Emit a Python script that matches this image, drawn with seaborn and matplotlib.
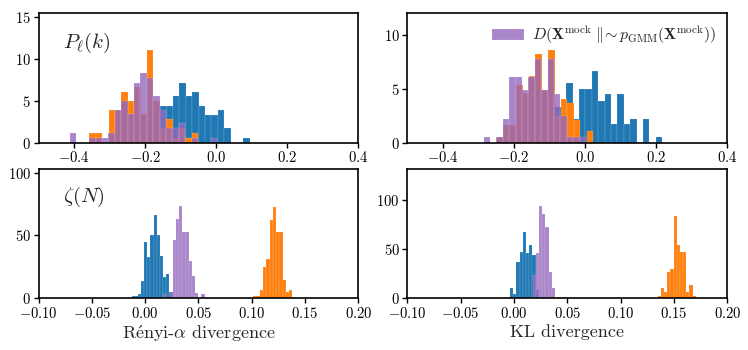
import numpy as np
import pandas as pd
import matplotlib
matplotlib.use("Agg")
import matplotlib.pyplot as plt
import seaborn as sns

# ---------------- data (histogram densities) ----------------
# P_ell(k), Renyi-alpha divergence (top-left)
pk_renyi_blue_start, pk_renyi_blue_width = -0.1577, 0.0180
pk_renyi_blue = [4.4, 4.4, 5.6, 7.2, 5.6, 6.1, 4.4, 3.3, 3.3, 3.9, 1.7, 0, 0, 0.56]
pk_renyi_orange_start, pk_renyi_orange_width = -0.357, 0.0180
pk_renyi_orange = [1.1, 1.1, 0, 3.9, 3.9, 6.1, 5.0, 6.7, 3.4, 11.1, 5.0, 1.7, 2.8, 0.56, 1.7, 0.56, 1.1]
pk_renyi_purple_start, pk_renyi_purple_width = -0.4113, 0.0180
pk_renyi_purple = [1.1, 0, 0, 0.56, 0.56, 0.56, 1.1, 3.9, 5.0, 3.4, 7.2, 8.3, 7.8, 5.6, 3.9, 1.7,
                   1.7, 2.3, 0, 0.56, 0, 0, 0.56]

# P_ell(k), KL divergence (top-right)
pk_kl_blue_start, pk_kl_blue_width = -0.089, 0.0180
pk_kl_blue = [3.3, 3.3, 5.6, 2.2, 5.0, 5.0, 6.7, 3.9, 4.5, 1.7, 4.5, 1.7, 2.2, 0, 2.2, 0, 0.56]
pk_kl_orange_start, pk_kl_orange_width = -0.248, 0.0180
pk_kl_orange = [0.53, 1.62, 1.62, 5.36, 4.58, 6.2, 8.26, 4.95, 8.63, 2.46, 4.1, 3.7, 2.09, 0, 1.1]
pk_kl_purple_start, pk_kl_purple_width = -0.2857, 0.0180
pk_kl_purple = [0.53, 0, 0.53, 2.18, 6.14, 6.14, 4.95, 6.07, 7.76, 4.95, 7.8, 4.49, 2.46, 0.53, 0.53, 0.53]

# zeta(N), Renyi-alpha divergence (bottom-left)
zn_renyi_blue_start, zn_renyi_blue_width = -0.0128, 0.00296
zn_renyi_blue = [1.6, 1.6, 3.4, 13.7, 45, 33, 50, 66, 50, 34, 17, 19, 4.7]
zn_renyi_purple_start, zn_renyi_purple_width = 0.0172, 0.00296
zn_renyi_purple = [3.4, 0, 4.7, 46.6, 63, 73.7, 53, 53, 30, 18, 4, 0, 3.4]
zn_renyi_orange_start, zn_renyi_orange_width = 0.1013, 0.00307
zn_renyi_orange = [1.6, 1.6, 6.6, 25, 31.6, 62, 73, 53, 53, 14.5, 5.3, 6.6]

# zeta(N), KL divergence (bottom-right)
zn_kl_blue_start, zn_kl_blue_width = -0.0037, 0.0030
zn_kl_blue = [10, 4, 37, 47, 67, 46, 54, 44, 8]
zn_kl_purple_start, zn_kl_purple_width = 0.0174, 0.0030
zn_kl_purple = [23.6, 46, 94, 86, 72, 27, 10]
zn_kl_orange_start, zn_kl_orange_width = 0.1348, 0.00297
zn_kl_orange = [2.4, 10, 6.7, 27, 30, 84, 54, 47, 47, 6.7, 13.5, 2.4]

top_xticks = [-0.4, -0.2, 0.0, 0.2, 0.4]
bottom_xticks = [-0.10, -0.05, 0.00, 0.05, 0.10, 0.15, 0.20]
legend_label = r"$D(\mathbf{X}^{\rm mock}\ \|\!\sim p_{\rm GMM}(\mathbf{X}^{\rm mock}))$"
xlabels = [r"R$\acute{\rm e}$nyi-$\alpha$ divergence", "KL divergence"]

# ---------------- style ----------------
sns.set_style("ticks")
plt.rcParams["font.family"] = ["cmr10", "DejaVu Serif"]
plt.rcParams["mathtext.fontset"] = "cm"
plt.rcParams["axes.formatter.use_mathtext"] = True
plt.rcParams["axes.edgecolor"] = "black"
plt.rcParams["axes.linewidth"] = 1.2
plt.rcParams["xtick.color"] = "black"
plt.rcParams["ytick.color"] = "black"

C_BLUE, C_ORANGE, C_PURPLE = "#1f77b4", "#ff7f0e", "#9467bd"


def draw(ax, start, width, heights, color, alpha, label=None):
    h = np.asarray(heights, dtype=float)
    edges = start + width * np.arange(len(h) + 1)
    centers = 0.5 * (edges[:-1] + edges[1:])
    df = pd.DataFrame({"value": centers, "density": h})
    sns.histplot(data=df, x="value", weights="density", bins=list(edges), stat="count",
                 color=color, alpha=alpha, edgecolor=(1, 1, 1, 0.35), linewidth=0.3,
                 ax=ax, label=label)
    return h.max()


fig, axes = plt.subplots(2, 2, figsize=(7.48, 3.5), dpi=100)
fig.subplots_adjust(left=0.0515, right=0.9723, top=0.963, bottom=0.1477,
                    wspace=0.153, hspace=0.2)

panels = [
    (axes[0, 0], [(pk_renyi_blue_start, pk_renyi_blue_width, pk_renyi_blue, C_BLUE, 1.0),
                  (pk_renyi_orange_start, pk_renyi_orange_width, pk_renyi_orange, C_ORANGE, 1.0),
                  (pk_renyi_purple_start, pk_renyi_purple_width, pk_renyi_purple, C_PURPLE, 0.8)]),
    (axes[0, 1], [(pk_kl_blue_start, pk_kl_blue_width, pk_kl_blue, C_BLUE, 1.0),
                  (pk_kl_orange_start, pk_kl_orange_width, pk_kl_orange, C_ORANGE, 1.0),
                  (pk_kl_purple_start, pk_kl_purple_width, pk_kl_purple, C_PURPLE, 0.8)]),
    (axes[1, 0], [(zn_renyi_blue_start, zn_renyi_blue_width, zn_renyi_blue, C_BLUE, 1.0),
                  (zn_renyi_orange_start, zn_renyi_orange_width, zn_renyi_orange, C_ORANGE, 1.0),
                  (zn_renyi_purple_start, zn_renyi_purple_width, zn_renyi_purple, C_PURPLE, 0.8)]),
    (axes[1, 1], [(zn_kl_blue_start, zn_kl_blue_width, zn_kl_blue, C_BLUE, 1.0),
                  (zn_kl_orange_start, zn_kl_orange_width, zn_kl_orange, C_ORANGE, 1.0),
                  (zn_kl_purple_start, zn_kl_purple_width, zn_kl_purple, C_PURPLE, 0.8)]),
]

for i, (ax, series) in enumerate(panels):
    mx = 0
    for (s, w, h, c, a) in series:
        lab = legend_label if (i == 1 and c == C_PURPLE) else None
        mx = max(mx, draw(ax, s, w, h, c, a, lab))
    ax.set_ylim(0, 1.4 * mx)
    ax.set_ylabel("")
    ax.set_xlabel("")
    for sp in ax.spines.values():
        sp.set_visible(True)
        sp.set_color("black")
        sp.set_linewidth(1.2)
    ax.tick_params(direction="out", length=3.5, width=1.0, labelsize=10.5, pad=2)

for ax in axes[0]:
    ax.set_xlim(-0.5, 0.4)
    ax.set_xticks(top_xticks)
    ax.set_xticklabels([f"${t:.1f}$" for t in top_xticks])
for ax, lab in zip(axes[1], xlabels):
    ax.set_xlim(-0.1, 0.2)
    ax.set_xticks(bottom_xticks)
    ax.set_xticklabels([f"${t:.2f}$" for t in bottom_xticks])
    ax.set_xlabel(lab, fontsize=13, labelpad=2)

axes[0, 0].set_yticks([0, 5, 10, 15])
axes[0, 1].set_yticks([0, 5, 10])
axes[1, 0].set_yticks([0, 50, 100])
axes[1, 1].set_yticks([0, 50, 100])
for ax in axes.flat:
    ax.set_yticklabels([f"${int(t)}$" for t in ax.get_yticks()])

axes[0, 0].text(0.075, 0.73, r"$P_\ell(k)$", transform=axes[0, 0].transAxes, fontsize=15)
axes[1, 0].text(0.075, 0.74, r"$\zeta(N)$", transform=axes[1, 0].transAxes, fontsize=15)

axes[0, 1].legend(loc="upper right", frameon=False, fontsize=11.5, handlelength=2.0,
                  borderaxespad=0.3, handletextpad=0.5)

fig.savefig("out.png", dpi=100)
